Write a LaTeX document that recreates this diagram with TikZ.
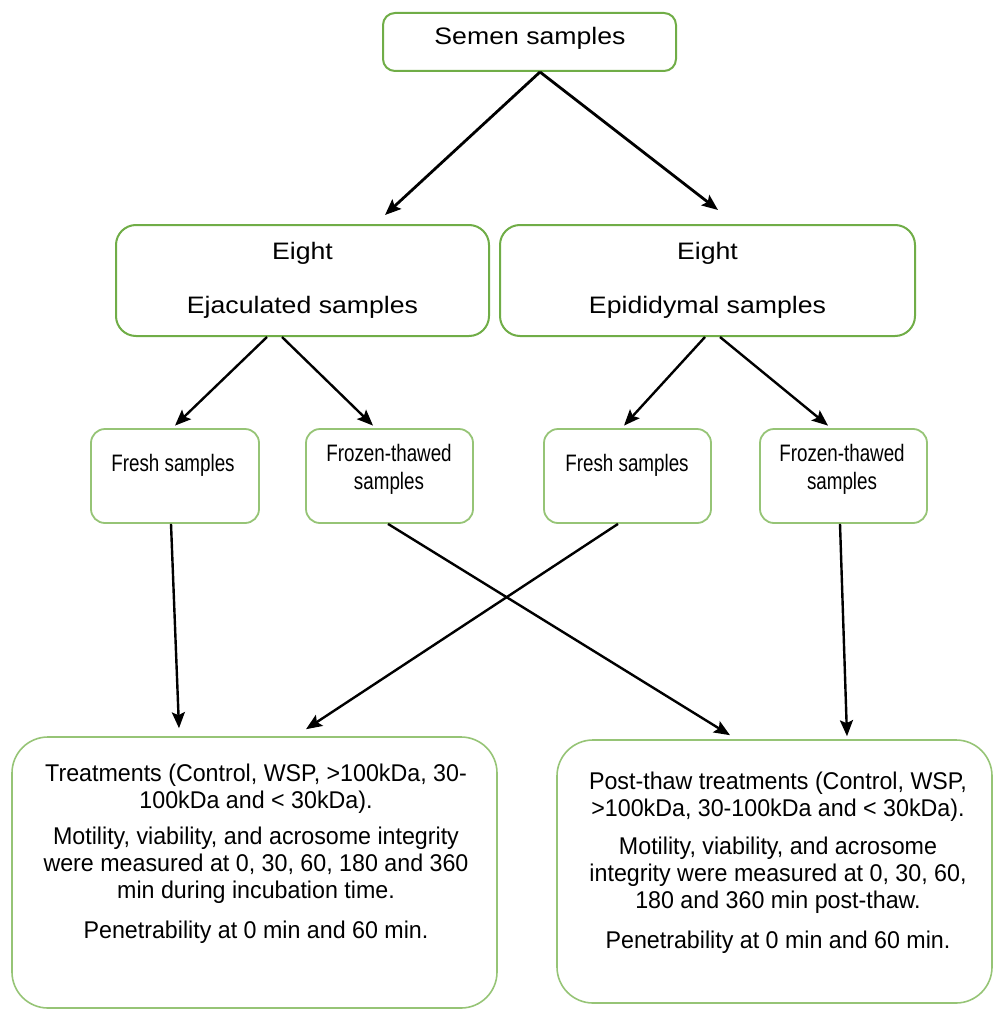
\documentclass[tikz,border=0pt]{standalone}
\usepackage{fontspec}
\setmainfont{Liberation Sans}
\newfontfamily\widesans[FakeStretch=1.12]{Liberation Sans}
\newfontfamily\narrowsans[FakeStretch=0.79]{Liberation Sans}
\newfontfamily\bodysans[FakeStretch=0.96]{Liberation Sans}
\usetikzlibrary{positioning}
\usetikzlibrary{calc,arrows.meta}
\definecolor{boxgreen}{RGB}{112,173,71}
\definecolor{palegreen}{RGB}{150,196,118}

\begin{document}
\begin{tikzpicture}[x=0.5pt,y=-0.5pt,
		topbox/.style={draw=boxgreen,line width=1pt,rounded corners=6pt,inner sep=0pt},
		groupbox/.style={draw=boxgreen,line width=1pt,rounded corners=10pt,inner sep=0pt,minimum height=55.5pt},
		samplebox/.style={draw=palegreen,line width=0.9pt,rounded corners=7pt,inner sep=0pt,minimum width=83.5pt,minimum height=47pt},
		resultbox/.style={draw=palegreen,line width=0.8pt,rounded corners=18pt,inner sep=0pt},
		widetext/.style={inner sep=0pt,align=center,font=\widesans\fontsize{11.9pt}{13.5pt}\selectfont},
		narrowtext/.style={inner sep=0pt,align=center,font=\narrowsans\fontsize{11.9pt}{14pt}\selectfont},
		bodytext/.style={inner sep=0pt,align=center,font=\bodysans\fontsize{12.1pt}{13.5pt}\selectfont},
		flow/.style={-{Stealth[length=8pt,width=6.5pt,inset=1.5pt]},line width=1.2pt},
		mainflow/.style={flow,line width=1.4pt}]
	\useasboundingbox (0,0) rectangle (993,1011);

	% boxes
	\node[topbox,minimum width=146.5pt,minimum height=29pt] (semen) at (529.5,42) {};
	\node[groupbox,minimum width=186.5pt] (ejac) at (302.5,280.5) {};
	\node[groupbox,minimum width=207.5pt] (epid) at (707.5,280.5) {};
	\node[samplebox,minimum width=84pt] (fresha) at (175,476) {};
	\node[samplebox] (frozena) at (389.5,476) {};
	\node[samplebox] (freshb) at (627.5,476) {};
	\node[samplebox] (frozenb) at (843.5,476) {};
	\node[resultbox,minimum width=242.5pt,minimum height=135.5pt] (treat) at (254.5,872.5) {};
	\node[resultbox,minimum width=217.5pt,minimum height=131.5pt] (posttreat) at (774.5,871.5) {};

	% texts
	\node[widetext] (sementxt) at ($(semen.center)+(0.5,-4)$) {Semen samples};
	\node[widetext] (ejactxt) at ($(ejac.center)+(0,-0.5)$) {Eight\\[13.5pt]Ejaculated samples};
	\node[widetext] (epidtxt) at ($(epid.center)+(0,-0.5)$) {Eight\\[13.5pt]Epididymal samples};
	\node[narrowtext] (freshatxt) at ($(fresha.center)+(-2,-11)$) {Fresh samples};
	\node[narrowtext] (frozenatxt) at ($(frozena.center)+(-0.5,-7)$) {Frozen-thawed\\samples};
	\node[narrowtext] (freshbtxt) at ($(freshb.center)+(-0.5,-11)$) {Fresh samples};
	\node[narrowtext] (frozenbtxt) at ($(frozenb.center)+(-1.5,-7)$) {Frozen-thawed\\samples};
	\node[bodytext] (treattxt) at ($(treat.center)+(1.5,-19)$) {Treatments (Control, WSP, >100kDa, 30-\\100kDa and < 30kDa).\\[4.5pt]
		Motility, viability, and acrosome integrity\\were measured at 0, 30, 60, 180 and 360\\min during incubation time.\\[6.5pt]
		Penetrability at 0 min and 60 min.};
	\node[bodytext] (posttreattxt) at ($(posttreat.center)+(3.5,-9)$) {Post-thaw treatments (Control, WSP,\\>100kDa, 30-100kDa and < 30kDa).\\[5.5pt]
		Motility, viability, and acrosome\\integrity were measured at 0, 30, 60,\\180 and 360 min post-thaw.\\[6.5pt]
		Penetrability at 0 min and 60 min.};

	% arrows
	\draw[mainflow] ($(semen.south)+(10.5,0)$) -- ($(ejac.north)+(82.5,-9)$);
	\draw[mainflow] ($(semen.south)+(10.5,0)$) -- ($(epid.north)+(10.5,-14)$);
	\draw[flow] ($(ejac.south)+(-35.5,0)$) -- ($(fresha.north)+(0,-2.5)$);
	\draw[flow] ($(ejac.south)+(-20.5,0)$) -- ($(frozena.north)+(-16.5,-2.5)$);
	\draw[flow] ($(epid.south)+(-2.5,0)$) -- ($(freshb.north)+(-3.5,-2.5)$);
	\draw[flow] ($(epid.south)+(12.5,0)$) -- ($(frozenb.north)+(-15.5,-2.5)$);
	\draw[flow] ($(fresha.south)+(-4,0)$) -- ($(treat.north)+(-75.5,-8)$);
	\draw[flow] ($(frozena.south)+(-1.5,0)$) -- ($(posttreat.north)+(-44.5,-4)$);
	\draw[flow] ($(freshb.south)+(-9.5,0)$) -- ($(treat.north)+(51.5,-7)$);
	\draw[flow] ($(frozenb.south)+(-3.5,0)$) -- ($(posttreat.north)+(72.5,-3)$);
\end{tikzpicture}
\end{document}
